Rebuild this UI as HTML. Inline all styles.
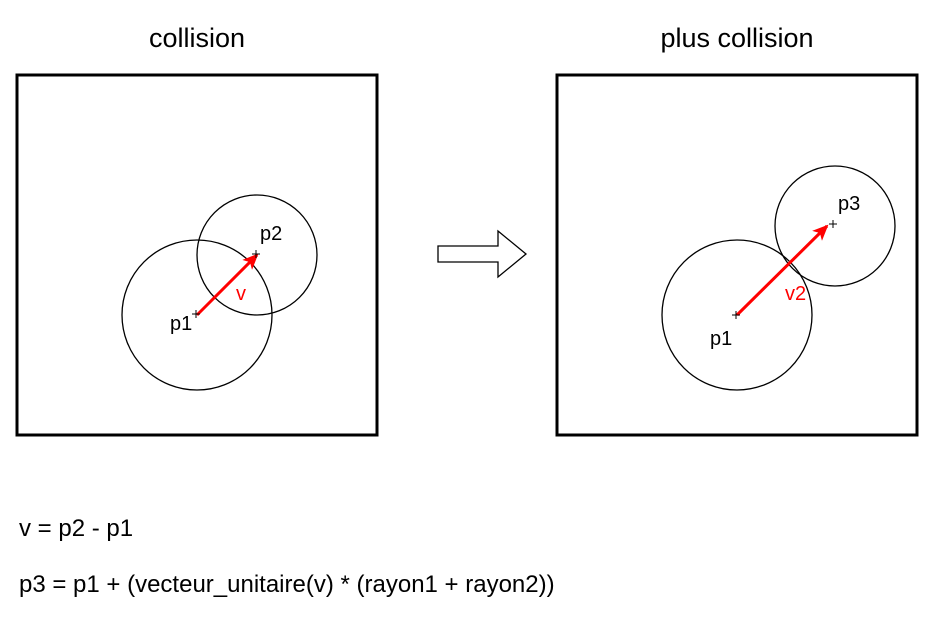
<!DOCTYPE html>
<html><head><meta charset="utf-8"><style>
html,body{margin:0;padding:0;background:#fff;}
svg{display:block;font-family:"Liberation Sans",sans-serif;}
</style></head><body>
<svg width="933" height="617" viewBox="0 0 933 617">
<defs>
<marker id="ah" markerWidth="16" markerHeight="14" refX="14" refY="7" orient="auto" markerUnits="userSpaceOnUse" viewBox="0 0 16 14">
<path d="M0,0 L16,7 L0,14 L4,7 Z" fill="#f00"/>
</marker>
</defs>
<text x="197" y="47" font-size="27" text-anchor="middle">collision</text>
<text x="737" y="47" font-size="27" text-anchor="middle">plus collision</text>

<g>
<rect x="17" y="75" width="360" height="360" fill="none" stroke="#000" stroke-width="3"/>
<circle cx="197" cy="315" r="75" fill="none" stroke="#000" stroke-width="1.3"/>
<circle cx="257" cy="255" r="60" fill="none" stroke="#000" stroke-width="1.3"/>
<line x1="197" y1="315" x2="257" y2="255" stroke="#f00" stroke-width="3" marker-end="url(#ah)"/>
<path d="M192,314h8M196,310v8M252,254h8M256,250v8" stroke="#000" stroke-width="1"/>
<text x="170" y="330" font-size="20">p1</text>
<text x="260" y="240" font-size="20">p2</text>
<text x="236" y="300" font-size="20" fill="#f00">v</text>
</g>

<path d="M438,246 H498 V231 L526,254 L498,277 V262 H438 Z" fill="#fff" stroke="#000" stroke-width="1.3"/>

<g>
<rect x="557" y="75" width="360" height="360" fill="none" stroke="#000" stroke-width="3"/>
<circle cx="737" cy="315" r="75" fill="none" stroke="#000" stroke-width="1.3"/>
<circle cx="835" cy="226" r="60" fill="none" stroke="#000" stroke-width="1.3"/>
<line x1="737" y1="315" x2="827" y2="226" stroke="#f00" stroke-width="3" marker-end="url(#ah)"/>
<path d="M732,315h8M736,311v8M829,224h8M833,220v8" stroke="#000" stroke-width="1"/>
<text x="710" y="345" font-size="20">p1</text>
<text x="838" y="210" font-size="20">p3</text>
<text x="785" y="300" font-size="20" fill="#f00">v2</text>
</g>

<text x="19" y="536" font-size="24">v = p2 - p1</text>
<text x="19" y="592" font-size="24">p3 = p1 + (vecteur_unitaire(v) * (rayon1 + rayon2))</text>
</svg>
</body></html>
